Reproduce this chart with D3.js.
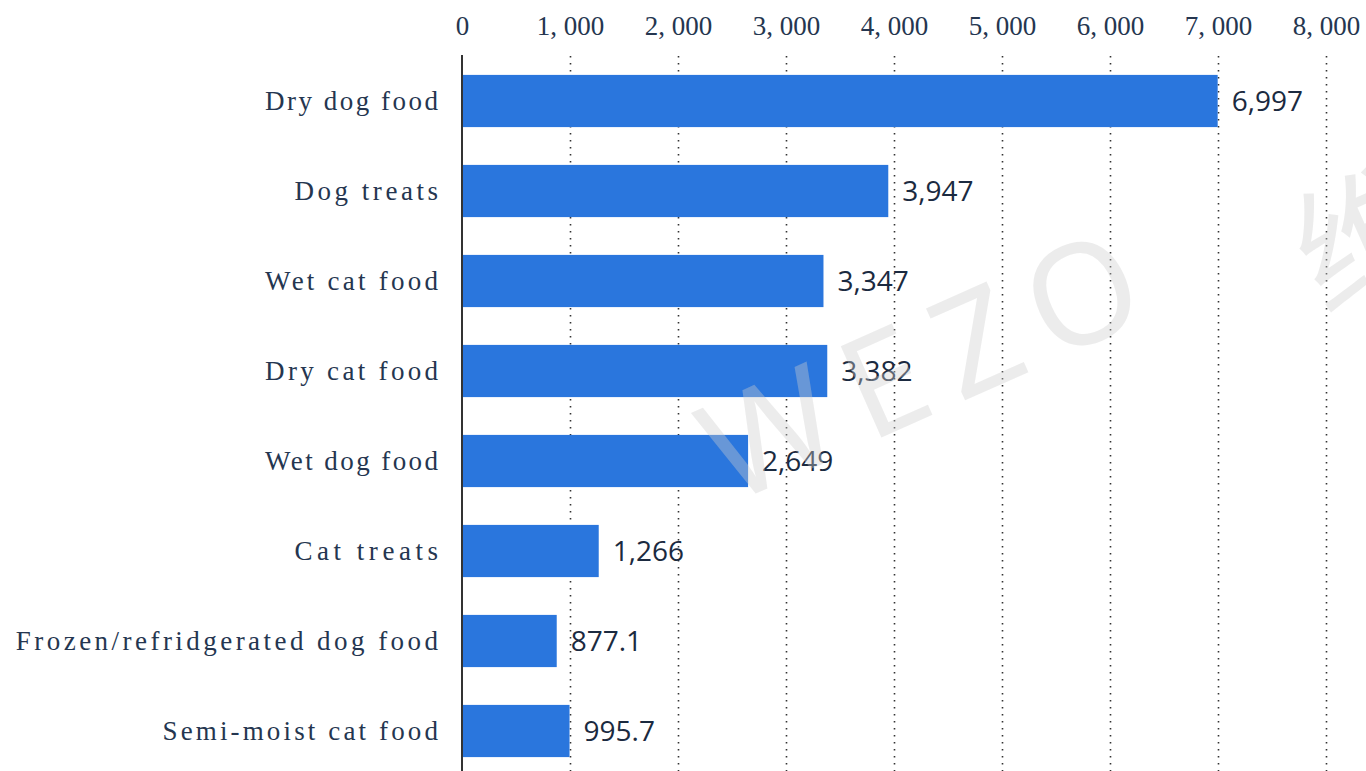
<!DOCTYPE html>
<html>
<head>
<meta charset="utf-8">
<script src="https://cdn.jsdelivr.net/npm/d3@7"></script>
<style>
  html, body { margin: 0; padding: 0; background: #fff; }
  svg { display: block; }
</style>
</head>
<body>
<svg id="chart" width="1366" height="771"></svg>
<script>
var categories = ["Dry dog food", "Dog treats", "Wet cat food", "Dry cat food",
  "Wet dog food", "Cat treats", "Frozen/refridgerated dog food", "Semi-moist cat food"];
var values = [6997, 3947, 3347, 3382, 2649, 1266, 877.1, 995.7];
var valueLabels = ["6,997", "3,947", "3,347", "3,382", "2,649", "1,266", "877.1", "995.7"];
var xTicks = [0, 1000, 2000, 3000, 4000, 5000, 6000, 7000, 8000];

var my = {
  svg: d3.select("#chart"),
  barColor: "#2a76dd",
  textColor: "#253650",
  left: 462, right: 1326, top: 56, bottom: 776
};

var x = d3.scaleLinear().domain([0, 8000]).range([my.left, my.right]);
var y = d3.scaleBand().domain(categories).range([my.top, my.bottom])
  .paddingInner(0.42).paddingOuter(0.21);

// dotted grid
my.svg.append("g").selectAll("line")
  .data(xTicks.filter(function(d){ return d > 0; }))
  .enter().append("line")
  .attr("x1", function(d){ return Math.round(x(d)) + 0.5; })
  .attr("x2", function(d){ return Math.round(x(d)) + 0.5; })
  .attr("y1", 56).attr("y2", 771)
  .attr("stroke", "#333").attr("stroke-width", 1.6)
  .attr("stroke-dasharray", "1.6,5.4");

// top axis labels
var xAxis = d3.axisTop(x).tickValues(xTicks).tickSize(0).tickPadding(0)
  .tickFormat(function(d){ return d3.format(",")(d).replace(",", ", "); });
var gx = my.svg.append("g").attr("transform", "translate(0,35)").call(xAxis);
gx.select(".domain").remove();
gx.selectAll("text")
  .attr("font-family", "'Liberation Serif', serif")
  .attr("font-size", 27)
  .attr("fill", my.textColor);

// bars
my.svg.append("g").selectAll("rect")
  .data(values)
  .enter().append("rect")
  .attr("x", x(0))
  .attr("y", function(d, i){ return y(categories[i]); })
  .attr("width", function(d){ return x(d) - x(0); })
  .attr("height", y.bandwidth())
  .attr("fill", my.barColor);

// category labels, spaced like a monospaced font
my.svg.append("g").selectAll("text")
  .data(categories)
  .enter().append("text")
  .attr("x", my.left - 24)
  .attr("y", function(d){ return y(d) + y.bandwidth() / 2; })
  .attr("dy", "0.35em")
  .attr("text-anchor", "end")
  .attr("font-family", "'Liberation Serif', serif")
  .attr("font-size", 27)
  .attr("fill", my.textColor)
  .attr("textLength", function(d){ return d.length * 14.66 - 3; })
  .attr("lengthAdjust", "spacing")
  .text(function(d){ return d; });

// value labels
my.svg.append("g").selectAll("text")
  .data(values)
  .enter().append("text")
  .attr("x", function(d){ return x(d) + 14; })
  .attr("y", function(d, i){ return y(categories[i]) + y.bandwidth() / 2; })
  .attr("dy", "0.36em")
  .attr("font-family", "'Open Sans', sans-serif")
  .attr("font-size", 28)
  .attr("fill", "#1b2a40")
  .text(function(d, i){ return valueLabels[i]; });

// y axis line
my.svg.append("line")
  .attr("x1", my.left).attr("x2", my.left)
  .attr("y1", 55).attr("y2", 771)
  .attr("stroke", "#333").attr("stroke-width", 2);

// watermark
var wm = my.svg.append("text")
  .attr("transform", "translate(730,505) rotate(-24)")
  .attr("font-family", "'Noto Sans', 'Noto Sans CJK SC', sans-serif")
  .attr("font-size", 140)
  .attr("letter-spacing", 22)
  .attr("fill", "#cccccc")
  .attr("fill-opacity", 0.38);
wm.append("tspan").text("WEZO");
wm.append("tspan").attr("dx", 135).attr("dy", 66).text("维度");
</script>
</body>
</html>
